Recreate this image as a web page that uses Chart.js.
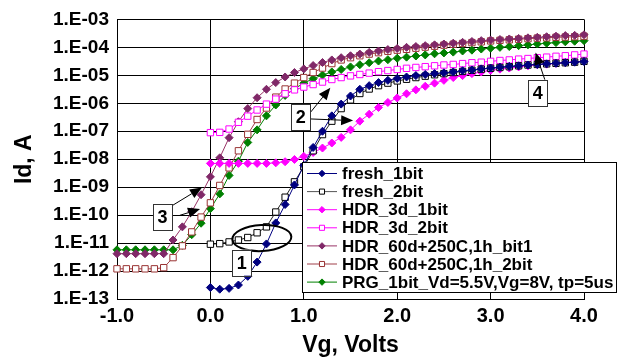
<!DOCTYPE html>
<html><head><meta charset="utf-8">
<script src="https://cdn.jsdelivr.net/npm/chart.js@4.4.0/dist/chart.umd.min.js"></script>
<style>html,body{margin:0;padding:0;background:#fff;}canvas{display:block;}</style>
</head><body>
<canvas id="c" width="621" height="361"></canvas>
<script>
// ---- data (Vg in volts, Id in amperes) ----
const vgFull = [-1.0,-0.9,-0.8,-0.7,-0.6,-0.5,-0.4,-0.3,-0.2,-0.1,
  0.0,0.1,0.2,0.3,0.4,0.5,0.6,0.7,0.8,0.9,
  1.0,1.1,1.2,1.3,1.4,1.5,1.6,1.7,1.8,1.9,
  2.0,2.1,2.2,2.3,2.4,2.5,2.6,2.7,2.8,2.9,
  3.0,3.1,3.2,3.3,3.4,3.5,3.6,3.7,3.8,3.9,4.0];
const vgFrom0 = [0.0,0.1,0.2,0.3,0.4,0.5,0.6,0.7,0.8,0.9,
  1.0,1.1,1.2,1.3,1.4,1.5,1.6,1.7,1.8,1.9,
  2.0,2.1,2.2,2.3,2.4,2.5,2.6,2.7,2.8,2.9,
  3.0,3.1,3.2,3.3,3.4,3.5,3.6,3.7,3.8,3.9,4.0];

const fresh1bit = [2.57e-13,2.24e-13,2.40e-13,3.16e-13,6.46e-13,2.09e-12,9.33e-12,5.25e-11,2.40e-10,1.20e-9,
  6.03e-9,2.63e-8,1.00e-7,3.55e-7,9.33e-7,1.82e-6,3.16e-6,4.27e-6,5.50e-6,6.61e-6,
  7.76e-6,8.71e-6,9.77e-6,1.07e-5,1.15e-5,1.23e-5,1.32e-5,1.45e-5,1.55e-5,1.70e-5,
  1.82e-5,1.95e-5,2.09e-5,2.19e-5,2.34e-5,2.45e-5,2.57e-5,2.69e-5,2.82e-5,2.95e-5,3.09e-5];
const fresh2bit = [9.12e-12,9.55e-12,1.10e-11,1.29e-11,1.58e-11,2.34e-11,3.80e-11,1.29e-10,4.37e-10,1.55e-9,
  5.37e-9,2.00e-8,7.59e-8,2.29e-7,6.46e-7,1.32e-6,2.24e-6,3.24e-6,4.27e-6,5.25e-6,
  6.31e-6,7.24e-6,8.32e-6,9.33e-6,1.05e-5,1.15e-5,1.26e-5,1.38e-5,1.51e-5,1.66e-5,
  1.78e-5,1.91e-5,2.04e-5,2.19e-5,2.34e-5,2.45e-5,2.57e-5,2.69e-5,2.82e-5,2.95e-5,3.16e-5];
const hdr3d1bit = [7.08e-9,7.08e-9,7.08e-9,7.08e-9,7.08e-9,7.08e-9,7.08e-9,7.41e-9,8.13e-9,9.77e-9,
  1.26e-8,1.74e-8,2.51e-8,3.80e-8,6.03e-8,1.12e-7,2.29e-7,4.07e-7,7.08e-7,1.07e-6,
  1.55e-6,2.19e-6,3.02e-6,4.07e-6,5.25e-6,6.61e-6,8.32e-6,9.77e-6,1.15e-5,1.32e-5,
  1.51e-5,1.66e-5,1.82e-5,2.00e-5,2.19e-5,2.40e-5,2.51e-5,2.69e-5,2.88e-5,3.02e-5,3.24e-5];
const hdr3d2bit = [8.91e-8,9.12e-8,1.20e-7,2.09e-7,3.47e-7,5.75e-7,9.33e-7,1.41e-6,2.19e-6,3.02e-6,
  3.80e-6,4.68e-6,5.75e-6,7.08e-6,8.32e-6,9.55e-6,1.07e-5,1.20e-5,1.35e-5,1.48e-5,
  1.62e-5,1.78e-5,1.91e-5,2.04e-5,2.19e-5,2.34e-5,2.45e-5,2.63e-5,2.82e-5,2.95e-5,
  3.16e-5,3.39e-5,3.55e-5,3.80e-5,3.98e-5,4.27e-5,4.47e-5,4.79e-5,5.01e-5,5.37e-5,5.75e-5];
const hdr60dBit1 = [4.17e-12,4.17e-12,4.17e-12,4.17e-12,4.17e-12,4.17e-12,1.29e-11,3.80e-11,1.32e-10,5.37e-10,
  2.34e-9,1.12e-8,5.89e-8,2.19e-7,6.46e-7,1.58e-6,3.16e-6,5.50e-6,8.71e-6,1.26e-5,
  1.70e-5,2.24e-5,2.88e-5,3.55e-5,4.27e-5,5.01e-5,5.75e-5,6.61e-5,7.41e-5,8.32e-5,
  9.12e-5,1.00e-4,1.07e-4,1.15e-4,1.23e-4,1.32e-4,1.41e-4,1.51e-4,1.62e-4,1.74e-4,
  1.82e-4,1.91e-4,2.00e-4,2.09e-4,2.19e-4,2.29e-4,2.40e-4,2.51e-4,2.63e-4,2.69e-4,2.82e-4];
const hdr60d2bit = [1.20e-12,1.20e-12,1.20e-12,1.20e-12,1.20e-12,1.32e-12,3.02e-12,7.94e-12,2.51e-11,8.51e-11,
  2.75e-10,1.15e-9,4.90e-9,2.00e-8,7.76e-8,2.63e-7,6.76e-7,1.66e-6,3.24e-6,5.25e-6,
  8.32e-6,1.26e-5,1.82e-5,2.63e-5,3.55e-5,4.27e-5,5.01e-5,5.75e-5,6.46e-5,7.24e-5,
  7.94e-5,8.51e-5,9.33e-5,1.02e-4,1.10e-4,1.20e-4,1.29e-4,1.38e-4,1.48e-4,1.58e-4,
  1.70e-4,1.78e-4,1.86e-4,1.95e-4,2.04e-4,2.14e-4,2.19e-4,2.29e-4,2.34e-4,2.40e-4,2.51e-4];
const prg1bit = [5.75e-12,5.75e-12,5.75e-12,5.75e-12,5.75e-12,5.75e-12,5.75e-12,8.32e-12,2.00e-11,5.13e-11,
  1.70e-10,5.75e-10,2.63e-9,8.51e-9,3.98e-8,1.12e-7,3.55e-7,8.71e-7,1.91e-6,3.31e-6,
  5.25e-6,7.59e-6,1.02e-5,1.32e-5,1.62e-5,2.00e-5,2.40e-5,2.82e-5,3.24e-5,3.63e-5,
  4.07e-5,4.47e-5,4.90e-5,5.37e-5,5.89e-5,6.31e-5,6.76e-5,7.41e-5,7.94e-5,8.71e-5,
  9.33e-5,1.00e-4,1.07e-4,1.15e-4,1.23e-4,1.32e-4,1.41e-4,1.48e-4,1.58e-4,1.66e-4,1.74e-4];

const seriesNames = ['fresh_1bit','fresh_2bit','HDR_3d_1bit','HDR_3d_2bit',
  'HDR_60d+250C,1h_bit1','HDR_60d+250C,1h_2bit','PRG_1bit_Vd=5.5V,Vg=8V, tp=5us'];
const yTickValues = [1e-13,1e-12,1e-11,1e-10,1e-9,1e-8,1e-7,1e-6,1e-5,1e-4,1e-3];
const yTickLabels = ['1.E-13','1.E-12','1.E-11','1.E-10','1.E-09','1.E-08','1.E-07','1.E-06','1.E-05','1.E-04','1.E-03'];
const xTickLabels = ['-1.0','0.0','1.0','2.0','3.0','4.0'];

// ---- annotations (in data units) ----
const noteBoxes = [
  {label:'1', v:0.335, a:2.0e-12},
  {label:'2', v:0.968, a:3.24e-7},
  {label:'3', v:-0.513, a:8.7e-11},
  {label:'4', v:3.505, a:2.4e-6}
];
const noteArrows = [
  {v0:-0.407, a0:2.21e-10, v1:-0.09, a1:9.77e-10},
  {v0:-0.329, a0:9.8e-11, v1:-0.111, a1:1.64e-10},
  {v0:1.075, a0:4.9e-7, v1:1.284, a1:3.57e-6},
  {v0:1.075, a0:2.75e-7, v1:1.528, a1:2.4e-7},
  {v0:3.583, a0:6.6e-6, v1:3.481, a1:6.6e-5}
];
const noteEllipse = {v:0.551, a:1.51e-11};

const pts = (xs, ys) => xs.map((x, i) => ({x: x, y: ys[i]}));
function ds(label, xs, ys, line, mark, style, fill, r) {
  return {label, data: pts(xs, ys), borderColor: line, borderWidth: 1,
    pointStyle: style, pointRadius: r, pointBorderColor: mark,
    pointBackgroundColor: fill, pointBorderWidth: 1, tension: 0, clip: false, fill: false};
}
const datasets = [
  ds(seriesNames[0], vgFrom0, fresh1bit, '#000080', '#000080', 'rectRot', '#000080', 4),
  ds(seriesNames[1], vgFrom0, fresh2bit, '#222222', '#000000', 'rect', '#ffffff', 4.5),
  ds(seriesNames[2], vgFrom0, hdr3d1bit, '#ff00ff', '#ff00ff', 'rectRot', '#ff00ff', 4),
  ds(seriesNames[3], vgFrom0, hdr3d2bit, '#ff00ff', '#ff00ff', 'rect', '#ffffff', 4.5),
  ds(seriesNames[4], vgFull, hdr60dBit1, '#993366', '#802868', 'rectRot', '#802868', 4),
  ds(seriesNames[5], vgFull, hdr60d2bit, '#a0404a', '#993333', 'rect', '#ffffff', 4.5),
  ds(seriesNames[6], vgFull, prg1bit, '#008000', '#008000', 'rectRot', '#008000', 4)
];

const FONT = "'Liberation Sans', Arial, sans-serif";
Chart.defaults.font.family = FONT;

const overlay = {
  id: 'overlay',
  afterDraw(chart) {
    const ctx = chart.ctx, xs = chart.scales.x, ys = chart.scales.y;
    const px = v => xs.getPixelForValue(v), py = a => ys.getPixelForValue(a);
    ctx.save();
    // ellipse
    ctx.strokeStyle = '#000'; ctx.lineWidth = 2;
    ctx.beginPath();
    ctx.ellipse(px(noteEllipse.v), py(noteEllipse.a), 29.5, 13, -0.05, 0, Math.PI * 2);
    ctx.stroke();
    // arrows
    noteArrows.forEach(ar => {
      const x0 = px(ar.v0), y0 = py(ar.a0), x1 = px(ar.v1), y1 = py(ar.a1);
      const ang = Math.atan2(y1 - y0, x1 - x0), L = 12, W = 5;
      const bx = x1 - L * Math.cos(ang), by = y1 - L * Math.sin(ang);
      ctx.strokeStyle = '#000'; ctx.lineWidth = 1;
      ctx.beginPath(); ctx.moveTo(x0, y0); ctx.lineTo(bx, by); ctx.stroke();
      ctx.fillStyle = '#000';
      ctx.beginPath();
      ctx.moveTo(x1, y1);
      ctx.lineTo(bx + W * Math.sin(ang), by - W * Math.cos(ang));
      ctx.lineTo(bx - W * Math.sin(ang), by + W * Math.cos(ang));
      ctx.closePath(); ctx.fill();
    });
    // number boxes
    noteBoxes.forEach(b => {
      const cx = px(b.v), cy = py(b.a), w = 19, h = 26;
      ctx.fillStyle = '#fff';
      ctx.fillRect(cx - w / 2, cy - h / 2, w, h);
      ctx.strokeStyle = '#333'; ctx.lineWidth = 1;
      ctx.strokeRect(Math.round(cx - w / 2) + 0.5, Math.round(cy - h / 2) + 0.5, w, h);
      ctx.fillStyle = '#000';
      ctx.font = 'bold 18px ' + FONT;
      ctx.textAlign = 'center'; ctx.textBaseline = 'middle';
      ctx.fillText(b.label, cx, cy + 1);
    });
    // legend
    const L = {left: 302, top: 162, right: 616, bottom: 292, row0: 173.5, step: 18.1};
    ctx.fillStyle = '#fff';
    ctx.fillRect(L.left, L.top, L.right - L.left, L.bottom - L.top);
    ctx.strokeStyle = '#000'; ctx.lineWidth = 1;
    ctx.strokeRect(L.left + 0.5, L.top + 0.5, L.right - L.left, L.bottom - L.top);
    chart.data.datasets.forEach((d, i) => {
      const y = L.row0 + i * L.step;
      ctx.strokeStyle = i === 1 ? '#555' : d.borderColor; ctx.lineWidth = 1;
      ctx.beginPath(); ctx.moveTo(307, y); ctx.lineTo(337, y); ctx.stroke();
      ctx.fillStyle = d.pointBackgroundColor; ctx.strokeStyle = d.pointBorderColor;
      Chart.helpers.drawPoint(ctx, {pointStyle: d.pointStyle, radius: d.pointRadius * 0.8, rotation: 0, borderWidth: 1}, 322, y);
      ctx.fillStyle = '#000';
      ctx.font = 'bold 17px ' + FONT;
      ctx.textAlign = 'left'; ctx.textBaseline = 'middle';
      ctx.fillText(d.label, 342, y + 1);
    });
    ctx.restore();
  }
};

new Chart(document.getElementById('c'), {
  type: 'line',
  data: {datasets},
  options: {
    responsive: false, animation: false,
    layout: {padding: {left: 0, top: 16, right: 37, bottom: 0}},
    plugins: {legend: {display: false}, tooltip: {enabled: false}},
    scales: {
      x: {
        type: 'linear', min: -1, max: 4,
        afterFit(s) { s.height = 62; },
        ticks: {stepSize: 1, color: '#000', font: {size: 20, weight: 'bold'}, padding: 5,
          callback: (v, i) => xTickLabels[i]},
        grid: {color: '#000', lineWidth: 1, drawTicks: false},
        border: {color: '#000', width: 1},
        title: {display: true, text: 'Vg, Volts', color: '#000', font: {size: 23, weight: 'bold'}, padding: {top: 0, bottom: 2}}
      },
      y: {
        type: 'logarithmic', min: 1e-13, max: 1e-3,
        afterFit(s) { s.width = 117; },
        afterBuildTicks(s) { s.ticks = yTickValues.map(v => ({value: v})); },
        ticks: {autoSkip: false, color: '#000', font: {size: 19, weight: 'bold'}, padding: 8,
          callback: (v, i) => yTickLabels[i]},
        grid: {color: '#000', lineWidth: 1, drawTicks: false},
        border: {color: '#000', width: 1},
        title: {display: true, text: 'Id, A', color: '#000', font: {size: 23, weight: 'bold'}, padding: {top: 11, bottom: 0}}
      }
    }
  },
  plugins: [overlay]
});
</script>
</body></html>
